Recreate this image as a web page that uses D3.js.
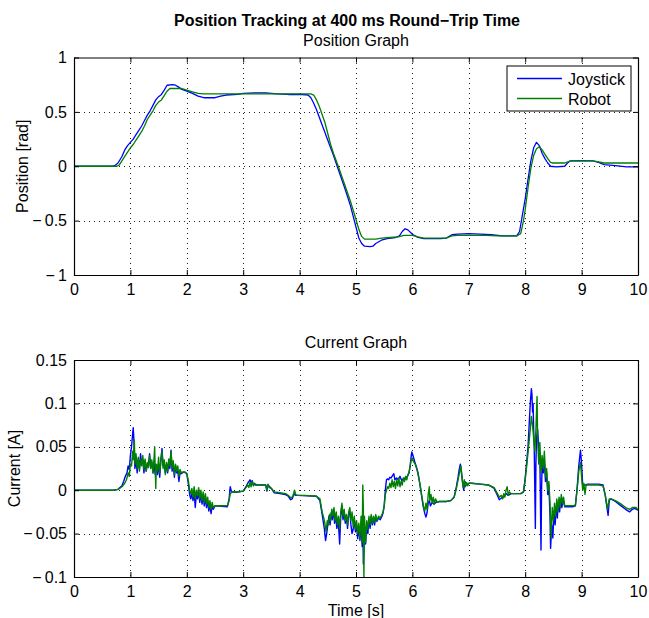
<!DOCTYPE html>
<html>
<head>
<meta charset="utf-8">
<script src="https://cdn.jsdelivr.net/npm/d3@7"></script>
<style>
  html, body { margin: 0; padding: 0; background: #fff; }
  svg { display: block; }
  text { font-family: "Liberation Sans", Arial, Helvetica, sans-serif; fill: #000; }
</style>
</head>
<body>
<svg id="chart" width="649" height="618"></svg>
<script>
// ---------------- DATA ----------------
const timeTicks = [0, 1, 2, 3, 4, 5, 6, 7, 8, 9, 10];
const timeTickLabels = ["0", "1", "2", "3", "4", "5", "6", "7", "8", "9", "10"];
const positionTicks = [-1, -0.5, 0, 0.5, 1];
const positionTickLabels = ["\u2212\u20091", "\u2212\u20090.5", "0", "0.5", "1"];
const currentTicks = [-0.1, -0.05, 0, 0.05, 0.1, 0.15];
const currentTickLabels = ["\u2212\u20090.1", "\u2212\u20090.05", "0", "0.05", "0.1", "0.15"];
const seriesNames = ["Joystick", "Robot"];

// [time (s), position (rad)]
const joystickPosition = [
[0,0],[0.68,0],[0.72,0.005],[0.78,0.03],[0.85,0.09],[0.9,0.15],[0.95,0.19],[1.0,0.22],[1.05,0.25],[1.1,0.29],
[1.15,0.33],[1.2,0.37],[1.25,0.42],[1.3,0.47],[1.35,0.51],[1.4,0.56],[1.45,0.61],[1.5,0.64],[1.55,0.66],[1.6,0.7],
[1.65,0.745],[1.75,0.75],[1.8,0.745],[1.85,0.73],[1.9,0.71],[2.0,0.69],[2.1,0.67],[2.2,0.645],[2.3,0.63],[2.5,0.63],
[2.6,0.645],[2.7,0.655],[2.9,0.66],[3.0,0.67],[3.2,0.675],[3.4,0.675],[3.6,0.665],[3.8,0.66],[4.0,0.66],[4.15,0.655],
[4.2,0.63],[4.25,0.58],[4.3,0.52],[4.4,0.38],[4.5,0.24],[4.6,0.1],[4.7,-0.05],[4.8,-0.2],[4.9,-0.36],[5.0,-0.56],
[5.05,-0.66],[5.1,-0.71],[5.15,-0.735],[5.25,-0.74],[5.3,-0.735],[5.35,-0.71],[5.45,-0.68],[5.55,-0.665],[5.7,-0.655],[5.77,-0.64],
[5.82,-0.6],[5.87,-0.575],[5.92,-0.585],[6.0,-0.625],[6.1,-0.655],[6.2,-0.665],[6.5,-0.665],[6.6,-0.66],[6.7,-0.63],[6.8,-0.625],
[7.0,-0.62],[7.2,-0.625],[7.4,-0.63],[7.6,-0.64],[7.85,-0.64],[7.9,-0.6],[7.95,-0.45],[8.0,-0.3],[8.05,-0.12],[8.1,0.05],
[8.15,0.17],[8.2,0.22],[8.25,0.19],[8.3,0.12],[8.35,0.07],[8.4,0.03],[8.45,0.0],[8.55,-0.005],[8.7,0.0],[8.75,0.03],
[8.8,0.05],[9.0,0.052],[9.2,0.05],[9.3,0.035],[9.4,0.015],[9.6,0.005],[9.8,-0.005],[10,-0.005]
];
const robotPosition = [
[0,0],[0.76,0],[0.8,0.01],[0.85,0.05],[0.9,0.09],[0.95,0.13],[1.0,0.17],[1.05,0.2],[1.1,0.24],[1.15,0.28],
[1.2,0.32],[1.25,0.37],[1.3,0.43],[1.35,0.47],[1.4,0.51],[1.45,0.56],[1.5,0.59],[1.55,0.61],[1.6,0.65],[1.65,0.69],
[1.7,0.715],[1.9,0.715],[2.0,0.7],[2.1,0.685],[2.2,0.67],[2.3,0.665],[4.2,0.665],[4.25,0.655],[4.3,0.61],[4.35,0.55],
[4.45,0.4],[4.55,0.2],[4.6,0.12],[4.7,-0.02],[4.8,-0.17],[4.9,-0.32],[5.0,-0.49],[5.05,-0.58],[5.1,-0.645],[5.15,-0.67],
[5.35,-0.67],[5.45,-0.66],[5.6,-0.655],[5.75,-0.65],[5.85,-0.635],[6.0,-0.635],[6.1,-0.65],[6.2,-0.66],[6.6,-0.66],[6.7,-0.64],
[6.8,-0.635],[7.3,-0.635],[7.5,-0.64],[7.85,-0.64],[7.92,-0.62],[7.97,-0.5],[8.0,-0.4],[8.05,-0.2],[8.1,-0.02],[8.15,0.1],
[8.2,0.16],[8.25,0.18],[8.3,0.15],[8.35,0.11],[8.4,0.07],[8.45,0.035],[8.48,0.03],[8.7,0.03],[8.78,0.045],[8.85,0.05],
[9.2,0.05],[9.3,0.04],[9.4,0.03],[10,0.03]
];

// [time (s), current (A)]
const joystickCurrent = [
[0,0],[0.70,0],[0.78,0.001],[0.85,0.005],[0.88,0.01],[0.91,0.016],[0.94,0.02],[0.96,0.028],[0.98,0.024],[1.00,0.04],
[1.02,0.05],[1.04,0.065],[1.05,0.072],[1.06,0.06],[1.07,0.045],[1.08,0.025],[1.10,0.035],[1.12,0.02],[1.14,0.036],[1.16,0.025],
[1.18,0.042],[1.20,0.03],[1.22,0.035],[1.24,0.02],[1.26,0.034],[1.28,0.022],[1.30,0.03],[1.32,0.028],[1.34,0.042],[1.36,0.026],
[1.38,0.032],[1.40,0.02],[1.42,0.03],[1.44,0.018],[1.46,0.028],[1.48,0.018],[1.50,0.03],[1.52,0.015],[1.54,0.035],[1.56,0.048],
[1.58,0.028],[1.60,0.03],[1.62,0.02],[1.64,0.03],[1.66,0.02],[1.68,0.032],[1.70,0.025],[1.72,0.046],[1.74,0.022],[1.76,0.03],
[1.78,0.015],[1.80,0.028],[1.82,0.02],[1.84,0.022],[1.86,0.01],[1.88,0.02],[1.90,0.019],[1.95,0.021],[2.00,0.019],[2.03,0.006],
[2.05,-0.005],[2.07,-0.01],[2.09,-0.004],[2.11,-0.012],[2.13,-0.002],[2.15,-0.02],[2.17,-0.004],[2.19,-0.01],[2.21,-0.002],[2.23,-0.014],
[2.25,-0.004],[2.27,-0.016],[2.29,-0.006],[2.31,-0.018],[2.33,-0.008],[2.35,-0.02],[2.37,-0.012],[2.39,-0.024],[2.41,-0.016],[2.43,-0.027],
[2.45,-0.018],[2.47,-0.022],[2.50,-0.018],[2.72,-0.019],[2.75,-0.01],[2.77,0.004],[2.79,-0.001],[2.81,-0.002],[2.90,-0.002],[3.00,-0.001],
[3.05,0.004],[3.08,0.008],[3.10,0.01],[3.12,0.012],[3.14,0.009],[3.16,0.011],[3.18,0.007],[3.22,0.006],[3.40,0.006],[3.42,-0.001],
[3.44,0.006],[3.50,0.002],[3.55,-0.003],[3.65,-0.004],[3.75,-0.005],[3.80,-0.007],[3.84,-0.011],[3.87,-0.01],[3.90,-0.004],[3.93,-0.006],
[3.96,-0.006],[4.30,-0.007],[4.36,-0.012],[4.40,-0.028],[4.44,-0.045],[4.46,-0.058],[4.48,-0.05],[4.50,-0.04],[4.52,-0.03],[4.54,-0.04],
[4.56,-0.026],[4.58,-0.034],[4.60,-0.022],[4.62,-0.038],[4.64,-0.028],[4.66,-0.044],[4.68,-0.034],[4.70,-0.05],[4.71,-0.062],[4.73,-0.03],
[4.75,-0.018],[4.77,-0.034],[4.79,-0.025],[4.81,-0.038],[4.83,-0.03],[4.85,-0.044],[4.87,-0.028],[4.89,-0.024],[4.91,-0.04],[4.93,-0.05],
[4.95,-0.045],[4.97,-0.034],[4.99,-0.048],[5.01,-0.04],[5.03,-0.056],[5.05,-0.042],[5.07,-0.058],[5.09,-0.04],[5.11,-0.065],[5.12,-0.02],
[5.13,-0.085],[5.15,-0.05],[5.17,-0.062],[5.19,-0.04],[5.21,-0.05],[5.23,-0.034],[5.25,-0.044],[5.27,-0.03],[5.29,-0.04],[5.31,-0.032],
[5.33,-0.04],[5.35,-0.03],[5.37,-0.036],[5.40,-0.032],[5.43,-0.034],[5.46,-0.03],[5.48,-0.026],[5.50,-0.018],[5.52,0.0],[5.54,0.012],
[5.56,0.013],[5.58,0.012],[5.60,0.015],[5.62,0.014],[5.65,0.017],[5.67,0.019],[5.69,0.012],[5.72,0.014],[5.75,0.012],[5.78,0.016],
[5.81,0.011],[5.85,0.014],[5.88,0.013],[5.92,0.017],[5.94,0.02],[5.96,0.028],[5.98,0.04],[5.99,0.044],[6.01,0.04],[6.04,0.033],
[6.07,0.027],[6.10,0.02],[6.13,0.008],[6.16,-0.005],[6.19,-0.018],[6.22,-0.027],[6.24,-0.031],[6.26,-0.026],[6.28,-0.015],[6.30,-0.012],
[6.32,-0.018],[6.35,-0.014],[6.38,-0.016],[6.42,-0.014],[6.48,-0.013],[6.60,-0.013],[6.68,-0.012],[6.74,-0.008],[6.78,0.004],[6.81,0.015],
[6.83,0.024],[6.85,0.03],[6.87,0.02],[6.89,0.008],[6.91,0.0],[6.93,0.01],[6.96,0.006],[7.00,0.008],[7.05,0.008],[7.20,0.007],
[7.35,0.006],[7.45,0.002],[7.50,-0.005],[7.54,-0.011],[7.58,-0.009],[7.62,-0.008],[7.66,-0.004],[7.70,-0.006],[7.75,-0.004],[7.92,-0.004],
[7.97,-0.002],[8.00,0.014],[8.03,0.035],[8.05,0.05],[8.07,0.075],[8.09,0.1],[8.11,0.117],[8.12,0.11],[8.13,0.09],[8.14,0.1],
[8.15,0.07],[8.16,0.05],[8.18,-0.044],[8.19,0.03],[8.20,0.06],[8.22,0.07],[8.24,0.05],[8.26,0.04],[8.28,-0.069],[8.29,0.0],
[8.30,0.03],[8.32,0.02],[8.34,0.035],[8.36,0.01],[8.38,0.02],[8.40,-0.005],[8.42,0.005],[8.44,-0.03],[8.45,-0.067],[8.47,-0.04],
[8.49,-0.055],[8.51,-0.025],[8.53,-0.04],[8.55,-0.02],[8.57,-0.032],[8.59,-0.012],[8.61,-0.025],[8.63,-0.01],[8.65,-0.02],[8.67,-0.01],
[8.70,-0.019],[8.75,-0.019],[8.85,-0.019],[8.89,-0.018],[8.92,0.002],[8.95,0.028],[8.98,0.046],[9.00,0.03],[9.02,0.005],[9.04,0.006],
[9.08,0.006],[9.10,0.007],[9.30,0.007],[9.38,0.006],[9.42,-0.006],[9.45,-0.02],[9.47,-0.029],[9.49,-0.012],[9.52,-0.01],[9.60,-0.013],
[9.70,-0.018],[9.78,-0.022],[9.85,-0.025],[9.90,-0.022],[9.94,-0.021],[10.0,-0.023]
];
const robotCurrent = [
[0,0],[0.70,0],[0.78,0.001],[0.85,0.004],[0.90,0.008],[0.93,0.012],[0.96,0.02],[0.98,0.016],[1.00,0.03],[1.02,0.028],
[1.04,0.045],[1.05,0.035],[1.07,0.058],[1.08,0.03],[1.10,0.042],[1.12,0.025],[1.14,0.038],[1.16,0.022],[1.18,0.035],[1.20,0.028],
[1.22,0.04],[1.24,0.024],[1.26,0.036],[1.28,0.022],[1.30,0.032],[1.32,0.026],[1.34,0.04],[1.36,0.025],[1.38,0.035],[1.40,0.02],
[1.42,0.038],[1.43,0.05],[1.44,0.025],[1.45,0.002],[1.46,0.03],[1.48,0.022],[1.50,0.038],[1.52,0.02],[1.54,0.033],[1.56,0.045],
[1.58,0.025],[1.60,0.035],[1.62,0.018],[1.64,0.032],[1.66,0.022],[1.68,0.036],[1.70,0.028],[1.72,0.045],[1.74,0.025],[1.76,0.034],
[1.78,0.018],[1.80,0.03],[1.82,0.022],[1.84,0.028],[1.86,0.016],[1.88,0.024],[1.90,0.02],[1.93,0.021],[1.97,0.021],[2.00,0.019],
[2.03,0.01],[2.05,0.0],[2.07,-0.004],[2.09,0.002],[2.11,-0.008],[2.13,0.004],[2.15,-0.01],[2.17,0.0],[2.19,-0.006],[2.21,0.003],
[2.23,-0.01],[2.25,0.0],[2.27,-0.012],[2.29,-0.002],[2.31,-0.014],[2.33,-0.004],[2.35,-0.016],[2.37,-0.008],[2.39,-0.02],[2.41,-0.012],
[2.43,-0.022],[2.45,-0.014],[2.47,-0.02],[2.50,-0.018],[2.60,-0.018],[2.72,-0.018],[2.75,-0.012],[2.77,-0.004],[2.80,-0.002],[2.90,-0.002],
[3.00,-0.001],[3.05,0.003],[3.08,0.006],[3.10,0.003],[3.12,0.009],[3.14,0.004],[3.16,0.01],[3.18,0.005],[3.20,0.008],[3.25,0.006],
[3.40,0.006],[3.42,0.0],[3.44,0.007],[3.46,0.003],[3.50,0.002],[3.55,-0.002],[3.65,-0.003],[3.75,-0.004],[3.80,-0.006],[3.85,-0.009],
[3.88,-0.007],[3.91,0.0],[3.93,-0.005],[3.96,-0.006],[4.10,-0.006],[4.30,-0.007],[4.36,-0.01],[4.40,-0.025],[4.44,-0.035],[4.47,-0.048],
[4.49,-0.035],[4.51,-0.04],[4.53,-0.028],[4.55,-0.035],[4.57,-0.022],[4.59,-0.03],[4.61,-0.02],[4.63,-0.035],[4.65,-0.025],[4.67,-0.04],
[4.69,-0.03],[4.71,-0.045],[4.73,-0.025],[4.75,-0.015],[4.77,-0.03],[4.79,-0.022],[4.81,-0.035],[4.83,-0.028],[4.85,-0.04],[4.87,-0.025],
[4.89,-0.02],[4.91,-0.035],[4.93,-0.025],[4.95,-0.042],[4.97,-0.03],[4.99,-0.045],[5.01,-0.035],[5.03,-0.05],[5.05,-0.038],[5.07,-0.055],
[5.09,-0.03],[5.11,-0.06],[5.12,0.006],[5.13,-0.02],[5.14,-0.1],[5.15,-0.03],[5.17,-0.06],[5.19,-0.035],[5.21,-0.045],[5.23,-0.03],
[5.25,-0.04],[5.27,-0.028],[5.29,-0.038],[5.31,-0.03],[5.33,-0.037],[5.35,-0.028],[5.37,-0.035],[5.40,-0.03],[5.43,-0.032],[5.46,-0.028],
[5.48,-0.025],[5.50,-0.018],[5.52,-0.005],[5.54,0.0],[5.56,0.004],[5.58,0.002],[5.60,0.008],[5.62,0.003],[5.64,0.012],[5.66,0.004],
[5.68,0.01],[5.70,0.002],[5.72,0.012],[5.74,0.005],[5.76,0.014],[5.78,0.004],[5.80,0.01],[5.82,0.006],[5.84,0.014],[5.86,0.01],
[5.88,0.016],[5.90,0.012],[5.92,0.018],[5.94,0.02],[5.96,0.028],[5.98,0.035],[6.00,0.037],[6.02,0.033],[6.05,0.03],[6.08,0.024],
[6.11,0.015],[6.14,0.005],[6.17,-0.008],[6.20,-0.02],[6.22,-0.024],[6.24,-0.015],[6.26,-0.022],[6.28,-0.005],[6.30,0.004],[6.31,-0.012],
[6.33,-0.005],[6.35,-0.015],[6.37,-0.008],[6.39,-0.016],[6.41,-0.01],[6.44,-0.014],[6.48,-0.013],[6.60,-0.013],[6.68,-0.012],[6.74,-0.008],
[6.78,0.002],[6.81,0.012],[6.84,0.022],[6.86,0.028],[6.88,0.015],[6.90,0.003],[6.92,0.012],[6.94,0.004],[6.96,0.009],[6.98,0.005],
[7.00,0.008],[7.05,0.008],[7.20,0.007],[7.35,0.006],[7.45,0.003],[7.50,-0.003],[7.54,-0.008],[7.58,-0.006],[7.60,-0.01],[7.62,-0.004],
[7.64,-0.008],[7.66,0.0],[7.68,0.004],[7.70,-0.006],[7.72,-0.002],[7.75,-0.004],[7.85,-0.004],[7.92,-0.004],[7.97,-0.002],[8.00,0.012],
[8.03,0.03],[8.06,0.05],[8.09,0.07],[8.11,0.085],[8.13,0.075],[8.15,0.06],[8.17,0.045],[8.19,0.07],[8.21,0.108],[8.22,0.06],
[8.24,0.03],[8.26,0.055],[8.28,0.02],[8.30,0.04],[8.32,0.025],[8.34,0.045],[8.36,0.015],[8.38,0.025],[8.40,0.0],[8.42,0.01],
[8.44,-0.015],[8.46,-0.055],[8.48,-0.02],[8.50,-0.035],[8.52,-0.015],[8.54,-0.03],[8.56,-0.01],[8.58,-0.025],[8.60,-0.008],[8.62,-0.02],
[8.64,-0.005],[8.66,-0.015],[8.68,-0.008],[8.70,-0.018],[8.75,-0.018],[8.85,-0.018],[8.89,-0.017],[8.92,0.0],[8.95,0.022],[8.98,0.032],
[9.00,0.015],[9.02,0.0],[9.04,0.008],[9.06,-0.005],[9.08,0.006],[9.10,0.006],[9.30,0.006],[9.38,0.005],[9.42,-0.006],[9.46,-0.022],
[9.49,-0.01],[9.52,-0.01],[9.60,-0.012],[9.70,-0.016],[9.78,-0.02],[9.85,-0.022],[9.90,-0.02],[9.94,-0.02],[9.97,-0.02],[10.0,-0.023]
];

// ---------------- DRAW ----------------
const svg = d3.select("#chart");
const blue = "#0000ff", green = "#008000";
const left = 74, right = 638;
const FS = 16;

const x = d3.scaleLinear().domain([0, 10]).range([left, right]);
const yPos = d3.scaleLinear().domain([-1, 1]).range([275, 57.5]);
const yCur = d3.scaleLinear().domain([-0.1, 0.15]).range([577, 360]);

svg.append("text").attr("x", 347).attr("y", 26).attr("text-anchor", "middle")
  .attr("font-size", FS).attr("font-weight", "bold")
  .text("Position Tracking at 400 ms Round\u2212Trip Time");

function panel(id, y, yTicks, yLabels, subtitle, ylabel, ylabelX, series, showLegend, xlabel) {
  const g = svg.append("g");
  const [y0, y1] = y.range(); // bottom, top
  const clipId = "clip-" + id;
  svg.append("clipPath").attr("id", clipId).append("rect")
    .attr("x", left).attr("y", y1).attr("width", right - left).attr("height", y0 - y1);

  // grid
  const grid = g.append("g").attr("stroke", "#222").attr("stroke-width", 1)
    .attr("stroke-dasharray", "1,4").attr("shape-rendering", "crispEdges");
  grid.selectAll("line.v").data(timeTicks.slice(1, -1)).join("line")
    .attr("x1", d => Math.round(x(d)) + 0.5).attr("x2", d => Math.round(x(d)) + 0.5)
    .attr("y1", y1).attr("y2", y0);
  grid.selectAll("line.h").data(yTicks.filter(d => y(d) > y1 + 1 && y(d) < y0 - 1)).join("line")
    .attr("class", "h")
    .attr("x1", left).attr("x2", right)
    .attr("y1", d => Math.round(y(d)) + 0.5).attr("y2", d => Math.round(y(d)) + 0.5);

  // lines
  const line = d3.line().x(d => x(d[0])).y(d => y(d[1]));
  const lg = g.append("g").attr("clip-path", `url(#${clipId})`);
  series.forEach(s => {
    lg.append("path").datum(s.data).attr("fill", "none").attr("stroke", s.color)
      .attr("stroke-width", s.width).attr("stroke-linejoin", "round").attr("d", line);
  });

  // axes
  const fmtX = (d) => timeTickLabels[timeTicks.indexOf(d)];
  const fmtY = (d) => yLabels[yTicks.indexOf(d)];
  const axB = g.append("g").attr("transform", `translate(0,${y0})`)
    .call(d3.axisBottom(x).tickValues(timeTicks).tickFormat(fmtX).tickSizeInner(-5).tickSizeOuter(0).tickPadding(9));
  const axT = g.append("g").attr("transform", `translate(0,${y1})`)
    .call(d3.axisTop(x).tickValues(timeTicks).tickFormat("").tickSizeInner(-5).tickSizeOuter(0));
  const axL = g.append("g").attr("transform", `translate(${left},0)`)
    .call(d3.axisLeft(y).tickValues(yTicks).tickFormat(fmtY).tickSizeInner(-5).tickSizeOuter(0).tickPadding(7));
  const axR = g.append("g").attr("transform", `translate(${right},0)`)
    .call(d3.axisRight(y).tickValues(yTicks).tickFormat("").tickSizeInner(-5).tickSizeOuter(0));
  [axB, axT, axL, axR].forEach(a => {
    a.selectAll("text").attr("font-size", FS).attr("fill", "#000")
      .attr("font-family", "'Liberation Sans', Arial, sans-serif");
    a.selectAll("line").attr("stroke", "#000");
    a.select(".domain").attr("stroke", "#000").attr("stroke-width", 1.2);
  });
  axB.selectAll("text").attr("dy", "0.71em");

  // subtitle
  svg.append("text").attr("x", (left + right) / 2).attr("y", y1 - 12).attr("text-anchor", "middle")
    .attr("font-size", FS).text(subtitle);
  // y label
  svg.append("text").attr("transform", `translate(${ylabelX},${(y0 + y1) / 2}) rotate(-90)`)
    .attr("text-anchor", "middle").attr("font-size", FS).text(ylabel);
  if (xlabel) {
    svg.append("text").attr("x", (left + right) / 2).attr("y", y0 + 38.5).attr("text-anchor", "middle")
      .attr("font-size", FS).text(xlabel);
  }

  if (showLegend) {
    const lx = 507, ly = 66, lw = 124, lh = 45;
    const leg = g.append("g");
    leg.append("rect").attr("x", lx).attr("y", ly).attr("width", lw).attr("height", lh)
      .attr("fill", "#fff").attr("stroke", "#000").attr("stroke-width", 1);
    series.forEach((s, i) => {
      const yy = ly + 12.5 + i * 20;
      leg.append("line").attr("x1", lx + 10).attr("x2", lx + 55).attr("y1", yy).attr("y2", yy)
        .attr("stroke", s.color).attr("stroke-width", 1.3);
      leg.append("text").attr("x", lx + 61).attr("y", yy + 6).attr("font-size", FS).text(s.name);
    });
  }
}

panel("pos", yPos, positionTicks, positionTickLabels, "Position Graph", "Position [rad]", 28,
  [{ name: seriesNames[0], data: joystickPosition, color: blue, width: 1.3 },
   { name: seriesNames[1], data: robotPosition, color: green, width: 1.3 }], true, null);

panel("cur", yCur, currentTicks, currentTickLabels, "Current Graph", "Current [A]", 20,
  [{ name: seriesNames[0], data: joystickCurrent, color: blue, width: 1.4 },
   { name: seriesNames[1], data: robotCurrent, color: green, width: 1.4 }], false, "Time [s]");
</script>
</body>
</html>
